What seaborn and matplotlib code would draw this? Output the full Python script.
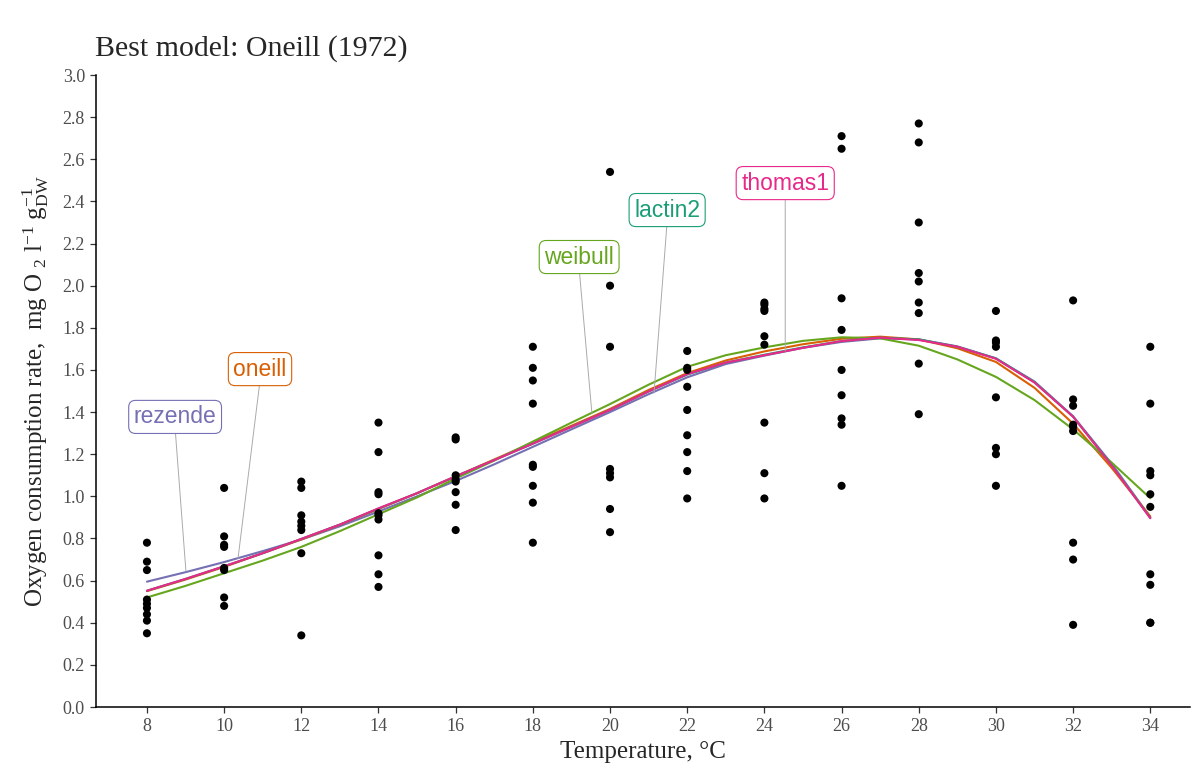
import numpy as np
import pandas as pd
import matplotlib
matplotlib.use("Agg")
import matplotlib.pyplot as plt
import seaborn as sns

# ---- data ----
obs_temp = ([8]*9 + [10]*8 + [12]*8 + [14]*10 + [16]*8 + [18]*9 + [20]*8 + [22]*9 +
            [24]*10 + [26]*9 + [28]*9 + [30]*8 + [32]*9 + [34]*10)
obs_rate = [0.78, 0.69, 0.65, 0.51, 0.49, 0.47, 0.44, 0.41, 0.35,
            1.04, 0.81, 0.77, 0.76, 0.66, 0.65, 0.52, 0.48,
            1.07, 1.04, 0.91, 0.88, 0.86, 0.84, 0.73, 0.34,
            1.35, 1.21, 1.02, 1.01, 0.92, 0.91, 0.89, 0.72, 0.63, 0.57,
            1.28, 1.27, 1.10, 1.08, 1.07, 1.02, 0.96, 0.84,
            1.71, 1.61, 1.55, 1.44, 1.15, 1.14, 1.05, 0.97, 0.78,
            2.54, 2.00, 1.71, 1.13, 1.11, 1.09, 0.94, 0.83,
            1.69, 1.61, 1.60, 1.52, 1.41, 1.29, 1.21, 1.12, 0.99,
            2.43, 1.92, 1.91, 1.89, 1.88, 1.76, 1.72, 1.35, 1.11, 0.99,
            2.71, 2.65, 1.94, 1.79, 1.60, 1.48, 1.37, 1.34, 1.05,
            2.77, 2.68, 2.30, 2.06, 2.02, 1.92, 1.87, 1.63, 1.39,
            1.88, 1.74, 1.73, 1.71, 1.47, 1.23, 1.20, 1.05,
            1.93, 1.46, 1.43, 1.34, 1.33, 1.31, 0.78, 0.70, 0.39,
            1.71, 1.44, 1.12, 1.10, 1.01, 0.95, 0.63, 0.58, 0.40, 0.40]

fit_temp = [8, 9, 10, 11, 12, 13, 14, 15, 16, 17, 18, 19, 20, 21, 22, 23, 24, 25,
            26, 27, 28, 29, 30, 31, 32, 33, 34]
rezende = [0.595, 0.640, 0.688, 0.740, 0.795, 0.858, 0.928, 1.000, 1.073, 1.152, 1.235,
           1.318, 1.400, 1.485, 1.565, 1.628, 1.668, 1.705, 1.733, 1.750, 1.745, 1.712,
           1.655, 1.545, 1.380, 1.155, 0.900]
oneill = [0.550, 0.605, 0.665, 0.730, 0.795, 0.865, 0.940, 1.015, 1.095, 1.175, 1.255,
          1.335, 1.415, 1.505, 1.585, 1.645, 1.688, 1.722, 1.748, 1.758, 1.745, 1.703,
          1.638, 1.515, 1.345, 1.135, 0.905]
weibull = [0.520, 0.575, 0.635, 0.695, 0.760, 0.835, 0.915, 0.995, 1.085, 1.170, 1.260,
           1.350, 1.438, 1.530, 1.615, 1.670, 1.707, 1.738, 1.755, 1.750, 1.715, 1.650,
           1.567, 1.457, 1.318, 1.160, 0.991]
lactin2 = [0.552, 0.608, 0.668, 0.730, 0.798, 0.866, 0.942, 1.015, 1.095, 1.172, 1.250,
           1.330, 1.410, 1.498, 1.578, 1.635, 1.672, 1.707, 1.737, 1.753, 1.745, 1.710,
           1.655, 1.542, 1.378, 1.148, 0.898]
thomas1 = [0.552, 0.608, 0.668, 0.730, 0.798, 0.866, 0.943, 1.015, 1.095, 1.172, 1.250,
           1.330, 1.410, 1.498, 1.580, 1.635, 1.670, 1.705, 1.737, 1.753, 1.742, 1.710,
           1.653, 1.540, 1.378, 1.146, 0.896]

models = ["rezende", "oneill", "weibull", "lactin2", "thomas1"]
colors = {"rezende": "#7570B3", "oneill": "#D95F02", "weibull": "#66A61E",
          "lactin2": "#1B9E77", "thomas1": "#E7298A"}

# label placement (annotation positions)
label_pos = {"rezende": (8.73, 1.377), "oneill": (10.93, 1.604), "weibull": (19.2, 2.136),
             "lactin2": (21.48, 2.359), "thomas1": (24.54, 2.487)}
label_end = {"rezende": (9.01, 0.645), "oneill": (10.36, 0.705), "weibull": (19.53, 1.395),
             "lactin2": (21.14, 1.49), "thomas1": (24.54, 1.69)}

fits = {"rezende": rezende, "oneill": oneill, "weibull": weibull,
        "lactin2": lactin2, "thomas1": thomas1}
fit_df = pd.concat([pd.DataFrame({"temp": fit_temp, "rate": fits[m], "model": m})
                    for m in models], ignore_index=True)
obs_df = pd.DataFrame({"temp": obs_temp, "rate": obs_rate})

# ---- style ----
sns.set_theme(style="ticks")
plt.rcParams["font.family"] = ["Liberation Serif", "DejaVu Serif"]
plt.rcParams["mathtext.fontset"] = "custom"
plt.rcParams["mathtext.rm"] = "Liberation Serif"
plt.rcParams["mathtext.it"] = "Liberation Serif:italic"
plt.rcParams["mathtext.bf"] = "Liberation Serif:bold"

fig = plt.figure(figsize=(12, 7.71), dpi=100)
ax = fig.add_axes([0.08, 0.083, 0.9117, 0.8197])

sns.lineplot(data=fit_df, x="temp", y="rate", hue="model", hue_order=models,
             palette=colors, linewidth=1.5, legend=False, ax=ax, sort=True)
for ln in ax.get_lines():
    ln.set_solid_joinstyle("round")
sns.scatterplot(data=obs_df, x="temp", y="rate", color="black", s=34,
                edgecolor="none", ax=ax, zorder=5)

for m in models:
    (tx, ty), (ex, ey) = label_pos[m], label_end[m]
    ax.annotate(m, xy=(ex, ey), xytext=(tx, ty), textcoords="data",
                ha="center", va="center", fontsize=16.5, color=colors[m],
                family=["Liberation Sans", "DejaVu Sans"],
                bbox=dict(boxstyle="round,pad=0.22,rounding_size=0.3", fc="white",
                          ec=colors[m], lw=0.8),
                arrowprops=dict(arrowstyle="-", color="#AAAAAA", lw=0.7,
                                shrinkA=0, shrinkB=0, relpos=(0.5, 0.0)),
                zorder=6)

ax.set_xlim(6.68, 35.03)
ax.set_ylim(0, 3.0)
ax.set_xticks(np.arange(8, 35, 2))
ax.set_yticks(np.round(np.arange(0, 3.01, 0.2), 1))
ax.set_yticklabels([f"{v:.1f}" for v in np.arange(0, 3.01, 0.2)])
ax.tick_params(axis="both", labelsize=13, labelcolor="#4D4D4D", length=4,
               width=0.9, color="#333333", direction="out", pad=4)
for s in ["top", "right"]:
    ax.spines[s].set_visible(False)
for s in ["left", "bottom"]:
    ax.spines[s].set_linewidth(1.1)
    ax.spines[s].set_color("black")

ax.set_xlabel("Temperature, °C", fontsize=18, labelpad=4)
ax.set_ylabel(r"Oxygen consumption rate,  mg O $_{2}$ l$^{-1}$ g$_{\mathrm{DW}}^{-1}$",
              fontsize=18, labelpad=8)
ax.set_title("Best model: Oneill (1972)", fontsize=21.5, loc="left", x=-0.001, pad=14)

fig.savefig("out.png", dpi=100)
